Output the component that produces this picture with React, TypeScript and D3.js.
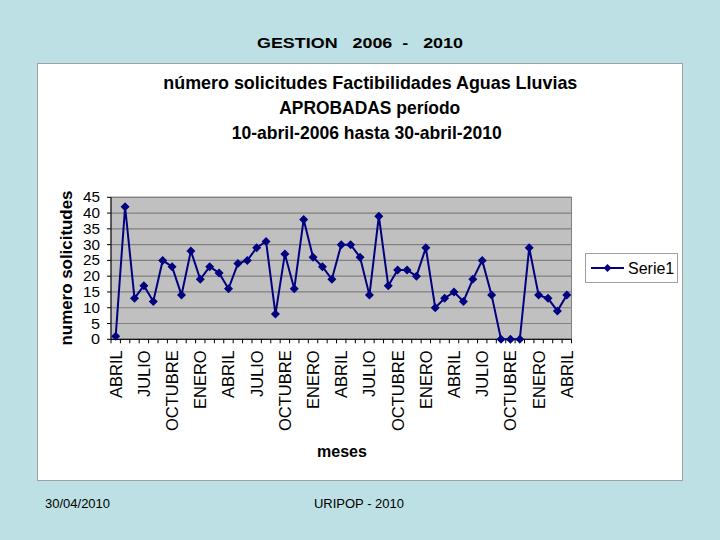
import React from "react";
import * as d3 from "d3";

const monthNames = ["ENERO","FEBRERO","MARZO","ABRIL","MAYO","JUNIO","JULIO","AGOSTO","SEPTIEMBRE","OCTUBRE","NOVIEMBRE","DICIEMBRE"];
// April 2006 .. April 2010 (49 months)
const categories: string[] = Array.from({ length: 49 }, (_, i) => `${monthNames[(3 + i) % 12]}-${2006 + Math.floor((3 + i) / 12)}`);
const serie1: number[] = [
  1, 42, 13, 17, 12, 25, 23, 14, 28, 19, 23, 21, 16, 24, 25, 29, 31, 8, 27, 16, 38, 26, 23, 19, 30,
  30, 26, 14, 39, 17, 22, 22, 20, 29, 10, 13, 15, 12, 19, 25, 14, 0, 0, 0, 29, 14, 13, 9, 14,
];
const yTicks: number[] = [0, 5, 10, 15, 20, 25, 30, 35, 40, 45];

export default function App() {
  const W = 720, H = 540;
  const left = 111, right = 571.5, top = 197.3, bottom = 339.3;
  const x = d3.scaleBand<string>().domain(categories).range([left, right]);
  const y = d3.scaleLinear().domain([0, 45]).range([bottom, top]);
  const cx = (i: number) => (x(categories[i]) as number) + x.bandwidth() / 2;
  const line = d3.line<number>().x((_, i) => cx(i)).y((d) => y(d));
  const diamond = (px: number, py: number, r = 4.5) => `M${px},${py - r}L${px + r},${py}L${px},${py + r}L${px - r},${py}Z`;
  const font = "Liberation Sans, Arial, sans-serif";
  return (
    <div style={{ position: "fixed", left: 0, top: 0, width: W, height: H }}>
      <svg width={W} height={H} style={{ display: "block" }} fontFamily={font}>
        <rect x={0} y={0} width={W} height={H} fill="#bce0e4" />
        <text x={360} y={48} textAnchor="middle" fontSize={15} fontWeight="bold" fill="#000" textLength={206} lengthAdjust="spacingAndGlyphs">GESTION&#160;&#160; 2006&#160; -&#160;&#160; 2010</text>
        <rect x={37.5} y={63.5} width={645} height={417} fill="#ffffff" stroke="#a0a0a0" strokeWidth={1} />
        <g fontSize={18.5} fontWeight="bold">
          <text x={370.3} y={88.5} textAnchor="middle" textLength={414} lengthAdjust="spacingAndGlyphs">número solicitudes Factibilidades Aguas Lluvias</text>
          <text x={369.7} y={114} textAnchor="middle" textLength={181} lengthAdjust="spacingAndGlyphs">APROBADAS período</text>
          <text x={366.7} y={139} textAnchor="middle" textLength={270} lengthAdjust="spacingAndGlyphs">10-abril-2006 hasta 30-abril-2010</text>
        </g>
        <rect x={left} y={top} width={right - left} height={bottom - top} fill="#c0c0c0" stroke="#808080" strokeWidth={1} />
        {yTicks.map((t) => (
          <g key={t}>
            <line x1={left} x2={right} y1={y(t)} y2={y(t)} stroke="#808080" strokeWidth={1.2} />
            <line x1={left - 4} x2={left} y1={y(t)} y2={y(t)} stroke="#000" />
            <text x={100} y={y(t) + 5} textAnchor="end" fontSize={15} fill="#000" textLength={t < 10 ? 9 : 17} lengthAdjust="spacingAndGlyphs">{t}</text>
          </g>
        ))}
        <line x1={left} x2={left} y1={top} y2={bottom} stroke="#000" />
        <line x1={left} x2={right} y1={bottom} y2={bottom} stroke="#000" />
        {categories.map((c, i) => (
          <line key={"tk" + i} x1={x(c) as number} x2={x(c) as number} y1={bottom} y2={bottom + 4} stroke="#000" />
        ))}
        <line x1={right} x2={right} y1={bottom} y2={bottom + 4} stroke="#000" />
        {categories.map((c, i) =>
          i % 3 === 0 ? (
            <text key={"lb" + i} transform={`translate(${cx(i) + 6},${bottom + 11}) rotate(-90)`} textAnchor="end" fontSize={16.5} fill="#000">
              {c.split("-")[0]}
            </text>
          ) : null
        )}
        <text x={342} y={457} textAnchor="middle" fontSize={16} fontWeight="bold">meses</text>
        <text transform={`translate(71.5,${268}) rotate(-90)`} textAnchor="middle" fontSize={17} fontWeight="bold" textLength={155} lengthAdjust="spacingAndGlyphs">numero solicitudes</text>
        <path d={line(serie1) as string} fill="none" stroke="#000080" strokeWidth={2} />
        {serie1.map((v, i) => (
          <path key={"pt" + i} d={diamond(cx(i), y(v))} fill="#000080" />
        ))}
        <rect x={585.5} y={253.5} width={92} height={29} fill="#fff" stroke="#a0a0a0" />
        <line x1={591} x2={624} y1={268} y2={268} stroke="#000080" strokeWidth={2} />
        <path d={diamond(607.5, 268, 4)} fill="#000080" />
        <text x={628} y={274} fontSize={16} fill="#000">Serie1</text>
        <text x={45} y={508} fontSize={13} fill="#000">30/04/2010</text>
        <text x={359} y={508} textAnchor="middle" fontSize={13} fill="#000">URIPOP - 2010</text>
      </svg>
    </div>
  );
}
